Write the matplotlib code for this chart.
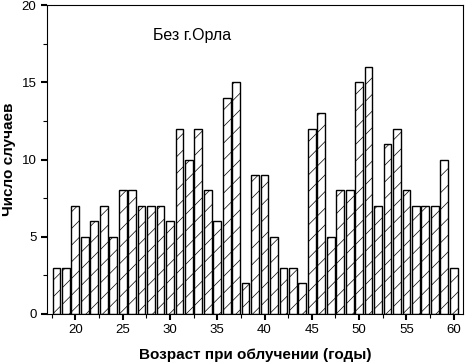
import matplotlib.pyplot as plt
from matplotlib.ticker import MultipleLocator

plt.rcParams['font.family'] = ['Liberation Sans', 'DejaVu Sans']
plt.rcParams['hatch.linewidth'] = 0.5
plt.rcParams['hatch.color'] = '#444444'

# Data
ages = list(range(18, 61))
cases = [3, 3, 7, 5, 6, 7, 5, 8, 8, 7,
         7, 7, 6, 12, 10, 12, 8, 6, 14, 15,
         2, 9, 9, 5, 3, 3, 2, 12, 13, 5,
         8, 8, 15, 16, 7, 11, 12, 8, 7, 7,
         7, 10, 3]

fig = plt.figure(figsize=(4.65, 3.63), dpi=100)
ax = fig.add_axes([0.101, 0.135, 0.895, 0.851])

ax.bar(ages, cases, width=0.82, color='white', edgecolor='black',
       linewidth=1.0, hatch='//')

ax.set_xlim(17, 61)
ax.set_ylim(0, 20)
ax.xaxis.set_major_locator(MultipleLocator(5))
ax.xaxis.set_minor_locator(MultipleLocator(2.5))
ax.yaxis.set_major_locator(MultipleLocator(5))
ax.yaxis.set_minor_locator(MultipleLocator(2.5))
ax.tick_params(which='major', direction='out', length=4, width=1.5, labelsize=9.5)
ax.tick_params(which='minor', direction='out', length=3, width=0.8)

ax.text(28.2, 18.0, 'Без г.Орла', fontsize=11.5, ha='left', va='center')

ax.set_xlabel('Возраст при облучении (годы)', fontsize=11, fontweight='bold',
              labelpad=8)
ax.set_ylabel('Число случаев', fontsize=11, fontweight='bold')

plt.savefig('out.png', dpi=100)
